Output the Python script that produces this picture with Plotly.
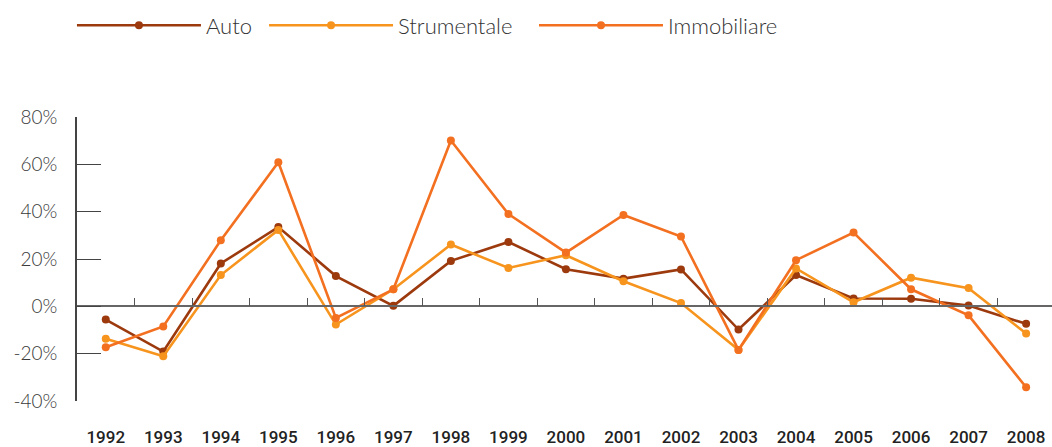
import plotly.graph_objects as go

# Annual growth rates by leasing segment
years = [1992, 1993, 1994, 1995, 1996, 1997, 1998, 1999, 2000,
         2001, 2002, 2003, 2004, 2005, 2006, 2007, 2008]
auto = [-5.6, -19.1, 18.1, 33.5, 12.8, 0.2, 19.2, 27.2, 15.7,
        11.7, 15.6, -9.8, 13.2, 3.3, 3.2, 0.3, -7.4]
strumentale = [-13.7, -21.1, 13.2, 32.3, -7.7, 7.2, 26.1, 16.2, 21.6,
               10.6, 1.4, -18.4, 16.0, 1.7, 12.1, 7.7, -11.5]
immobiliare = [-17.3, -8.5, 27.9, 60.9, -4.9, 7.2, 70.1, 39.0, 22.7,
               38.6, 29.5, -18.4, 19.5, 31.2, 7.2, -3.8, -34.2]

# name, values, colour, legend id, legend left edge (fraction of page width)
series = [
    ("Auto", auto, "#9C3A0E", "legend", 0.0684),
    ("Strumentale", strumentale, "#F7941D", "legend2", 0.2510),
    ("Immobiliare", immobiliare, "#F37021", "legend3", 0.5076),
]

y_ticks = [-40, -20, 0, 20, 40, 60, 80]
y_min, y_max = -40, 80
x_min, x_max = years[0] - 0.5, years[-1] + 0.45

fig = go.Figure()

# transparent carrier so the 0% baseline axis (x2) is rendered
fig.add_trace(go.Scatter(
    x=years, y=auto, xaxis="x2", mode="lines", opacity=0,
    showlegend=False, hoverinfo="skip",
))

for name, vals, color, leg, _ in series:
    fig.add_trace(go.Scatter(
        x=years, y=vals, name=name, mode="lines+markers",
        line=dict(color=color, width=2.6),
        marker=dict(color=color, size=8),
        legend=leg,
    ))

label_font = dict(family="Lato", size=19, color="#3a3a3a", weight=300)
legend_font = dict(family="Lato", size=22, color="#333333", weight=300)

legends = {}
for _, _, _, leg, xpos in series:
    legends[leg] = dict(
        orientation="h", x=xpos, y=0.99, xanchor="left", yanchor="top",
        xref="container", yref="container", itemwidth=124,
        font=legend_font, bgcolor="rgba(0,0,0,0)",
    )

fig.update_layout(
    width=1052, height=447,
    margin=dict(l=77, r=0, t=117, b=43),
    plot_bgcolor="white", paper_bgcolor="white",
    showlegend=True,
    **legends,
    xaxis=dict(
        range=[x_min, x_max], showgrid=False, zeroline=False, showline=False,
        tickmode="array", tickvals=years, ticktext=[str(y) for y in years],
        ticks="", ticklabelstandoff=24,
        tickfont=dict(family="Roboto", size=17, color="#222222", weight=500),
    ),
    # baseline at 0% with tick marks between years
    xaxis2=dict(
        overlaying="x", anchor="free", side="bottom",
        position=(0 - y_min) / (y_max - y_min),
        range=[x_min, x_max], showgrid=False, zeroline=False,
        showline=True, linecolor="#666666", linewidth=1.5,
        tickmode="array", tickvals=[y + 0.5 for y in years[:-1]],
        ticks="inside", ticklen=8, tickcolor="#555555", tickwidth=1.2,
        showticklabels=False,
    ),
    yaxis=dict(
        range=[y_min, y_max], showgrid=False, zeroline=False,
        showline=True, linecolor="#444444", linewidth=1.5,
        tickmode="array", tickvals=y_ticks,
        ticktext=[f"{v}%" for v in y_ticks],
        ticks="inside", ticklen=24, tickcolor="#444444", tickwidth=1.2,
        ticklabelstandoff=14, tickfont=label_font,
    ),
)

fig.write_html("out.html")
